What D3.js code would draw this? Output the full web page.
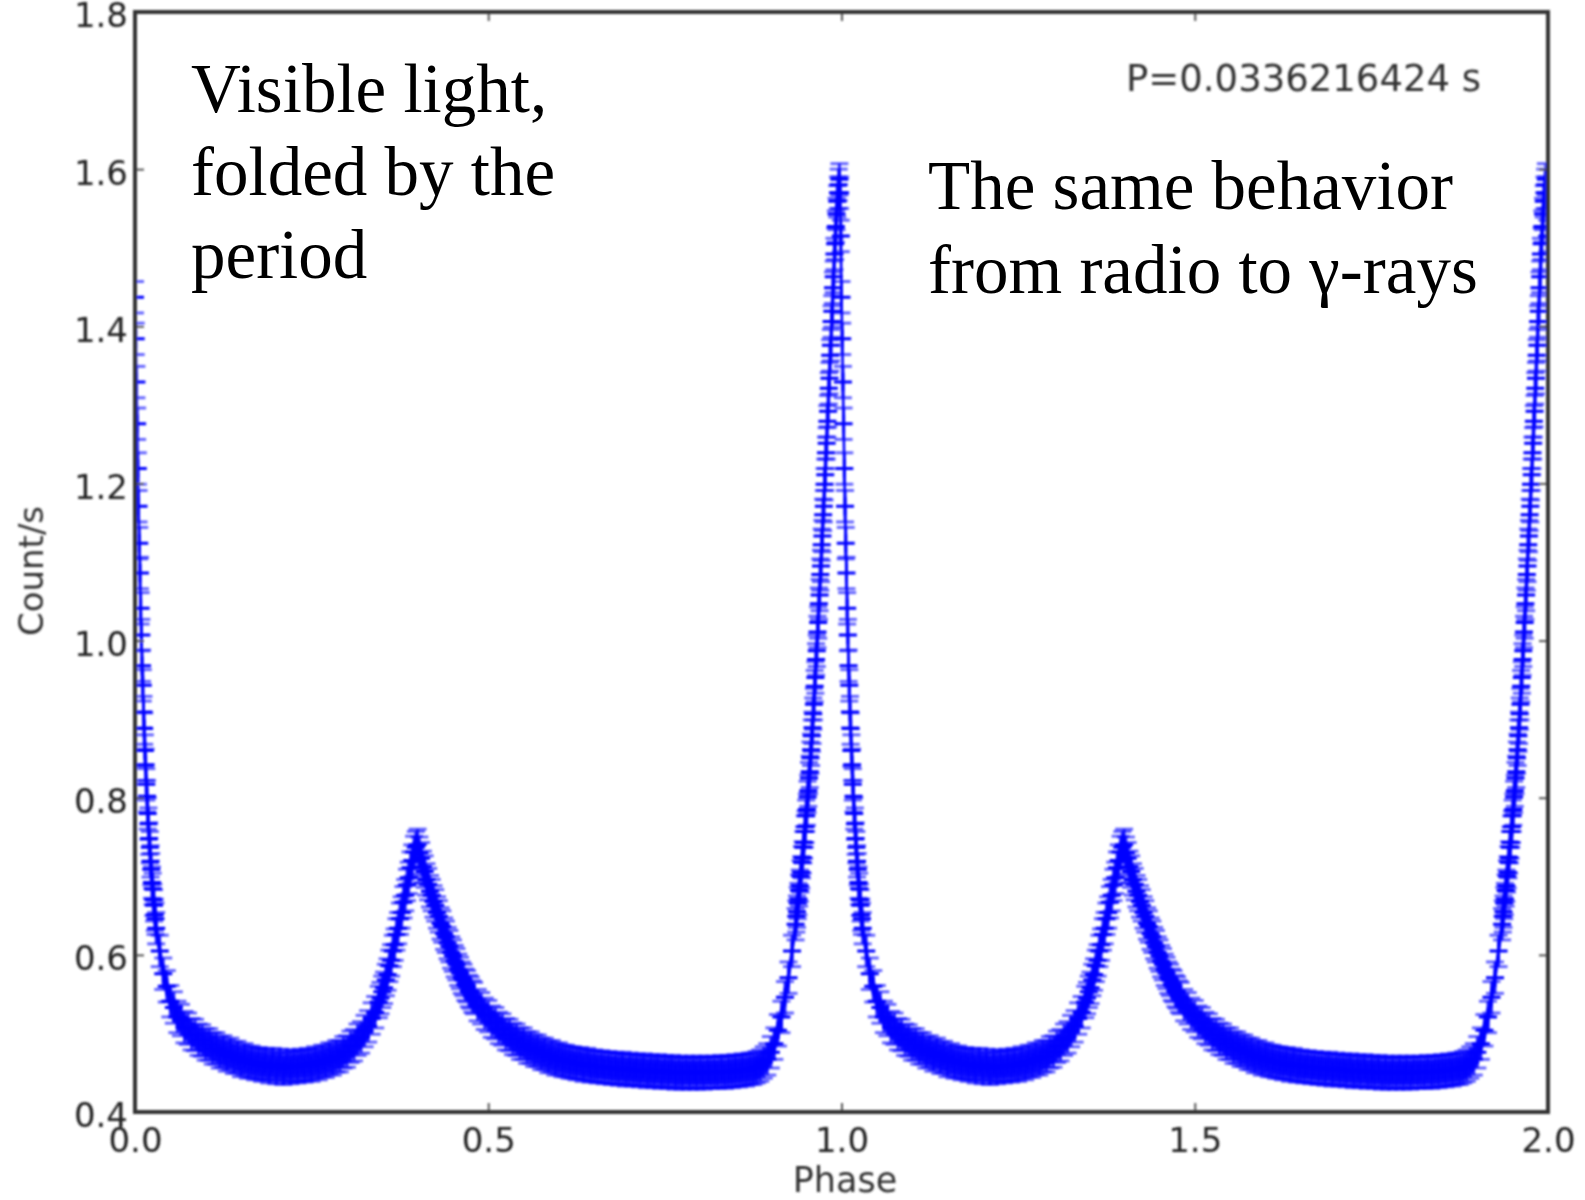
<!DOCTYPE html>
<html>
<head>
<meta charset="utf-8">
<title>Folded light curve</title>
<script src="https://cdn.jsdelivr.net/npm/d3@7"></script>
<style>
  body { margin: 0; background: #fff; }
  svg { display: block; }
</style>
</head>
<body>
<div id="chart"></div>
<script>
// one period of the folded light curve: [phase, count/s]
const lightCurve = [
  [0.000, 1.437], [0.001, 1.384], [0.002, 1.329], [0.003, 1.276], [0.004, 1.219],
  [0.005, 1.171], [0.006, 1.124], [0.007, 1.086], [0.008, 1.041], [0.009, 1.007],
  [0.010, 0.968], [0.011, 0.943], [0.012, 0.909], [0.013, 0.888], [0.014, 0.860],
  [0.015, 0.842], [0.016, 0.817], [0.017, 0.802], [0.018, 0.780], [0.019, 0.767],
  [0.020, 0.748], [0.021, 0.737], [0.022, 0.719], [0.023, 0.709], [0.024, 0.692],
  [0.025, 0.684], [0.026, 0.670], [0.027, 0.663], [0.028, 0.651], [0.029, 0.646],
  [0.030, 0.634], [0.035, 0.605], [0.040, 0.576], [0.045, 0.560], [0.050, 0.541],
  [0.055, 0.533], [0.060, 0.521], [0.065, 0.517], [0.070, 0.508], [0.075, 0.506],
  [0.080, 0.499], [0.085, 0.498], [0.090, 0.492], [0.095, 0.491], [0.100, 0.486],
  [0.105, 0.486], [0.110, 0.481], [0.115, 0.481], [0.120, 0.476], [0.125, 0.477],
  [0.130, 0.472], [0.135, 0.474], [0.140, 0.469], [0.145, 0.470], [0.150, 0.465],
  [0.155, 0.467], [0.160, 0.463], [0.165, 0.464], [0.170, 0.461], [0.175, 0.462],
  [0.180, 0.459], [0.185, 0.461], [0.190, 0.457], [0.195, 0.461], [0.200, 0.456],
  [0.205, 0.460], [0.210, 0.455], [0.215, 0.459], [0.220, 0.456], [0.225, 0.459],
  [0.230, 0.457], [0.235, 0.460], [0.240, 0.458], [0.245, 0.461], [0.250, 0.459],
  [0.255, 0.463], [0.260, 0.461], [0.265, 0.465], [0.270, 0.464], [0.275, 0.468],
  [0.280, 0.467], [0.285, 0.471], [0.290, 0.471], [0.295, 0.476], [0.300, 0.477],
  [0.305, 0.483], [0.310, 0.485], [0.315, 0.492], [0.320, 0.495], [0.325, 0.503],
  [0.330, 0.509], [0.335, 0.519], [0.340, 0.527], [0.345, 0.540],
  [0.3475, 0.545], [0.3500, 0.553], [0.3525, 0.558], [0.3550, 0.568], [0.3575, 0.575],
  [0.3600, 0.586], [0.3625, 0.593], [0.3650, 0.605], [0.3675, 0.613], [0.3700, 0.626],
  [0.3725, 0.634], [0.3750, 0.646], [0.3775, 0.654], [0.3800, 0.667], [0.3825, 0.676],
  [0.3850, 0.689], [0.3875, 0.698], [0.3900, 0.711], [0.3925, 0.720], [0.3950, 0.731],
  [0.3975, 0.737], [0.4000, 0.740], [0.4025, 0.730], [0.4050, 0.723], [0.4075, 0.712],
  [0.4100, 0.706], [0.4125, 0.696], [0.4150, 0.690], [0.4175, 0.681], [0.4200, 0.676],
  [0.4225, 0.668], [0.4250, 0.663], [0.4275, 0.654], [0.4300, 0.649], [0.4325, 0.640],
  [0.4350, 0.636], [0.4375, 0.627], [0.4400, 0.623], [0.4425, 0.615], [0.4450, 0.611],
  [0.4475, 0.603], [0.4500, 0.599], [0.4525, 0.592], [0.4550, 0.588], [0.4575, 0.581],
  [0.4600, 0.577], [0.4625, 0.571], [0.4650, 0.568], [0.4675, 0.562], [0.4700, 0.560],
  [0.4725, 0.554], [0.4750, 0.552], [0.4775, 0.547], [0.4800, 0.545],
  [0.485, 0.536], [0.490, 0.532], [0.495, 0.525], [0.500, 0.522], [0.505, 0.515],
  [0.510, 0.513], [0.515, 0.507], [0.520, 0.505], [0.525, 0.499], [0.530, 0.498],
  [0.535, 0.493], [0.540, 0.492], [0.545, 0.487], [0.550, 0.487], [0.555, 0.482],
  [0.560, 0.482], [0.565, 0.478], [0.570, 0.478], [0.575, 0.474], [0.580, 0.474],
  [0.585, 0.470], [0.590, 0.471], [0.595, 0.467], [0.600, 0.468], [0.605, 0.465],
  [0.610, 0.465], [0.615, 0.463], [0.620, 0.463], [0.625, 0.461], [0.630, 0.462],
  [0.635, 0.459], [0.640, 0.461], [0.645, 0.458], [0.650, 0.459], [0.655, 0.457],
  [0.660, 0.458], [0.665, 0.456], [0.670, 0.457], [0.675, 0.455], [0.680, 0.456],
  [0.685, 0.454], [0.690, 0.456], [0.695, 0.453], [0.700, 0.455], [0.705, 0.453],
  [0.710, 0.454], [0.715, 0.452], [0.720, 0.454], [0.725, 0.451], [0.730, 0.453],
  [0.735, 0.451], [0.740, 0.453], [0.745, 0.450], [0.750, 0.452], [0.755, 0.450],
  [0.760, 0.452], [0.765, 0.449], [0.770, 0.451], [0.775, 0.449], [0.780, 0.451],
  [0.785, 0.449], [0.790, 0.451], [0.795, 0.449], [0.800, 0.451], [0.805, 0.449],
  [0.810, 0.451], [0.815, 0.450], [0.820, 0.451], [0.825, 0.450], [0.830, 0.452],
  [0.835, 0.450], [0.840, 0.452], [0.845, 0.451], [0.850, 0.453], [0.855, 0.452],
  [0.860, 0.454], [0.865, 0.453], [0.870, 0.455], [0.875, 0.455], [0.880, 0.457],
  [0.885, 0.459], [0.890, 0.463], [0.895, 0.467], [0.900, 0.476], [0.905, 0.487],
  [0.910, 0.504], [0.915, 0.521], [0.920, 0.546], [0.925, 0.571], [0.930, 0.605],
  [0.935, 0.639],
  [0.936, 0.649], [0.937, 0.655], [0.938, 0.666], [0.939, 0.671], [0.940, 0.682],
  [0.941, 0.688], [0.942, 0.700], [0.943, 0.705], [0.944, 0.718], [0.945, 0.724],
  [0.946, 0.737], [0.947, 0.743], [0.948, 0.757], [0.949, 0.763], [0.950, 0.777],
  [0.951, 0.785], [0.952, 0.801], [0.953, 0.809], [0.954, 0.825], [0.955, 0.833],
  [0.956, 0.851], [0.957, 0.861], [0.958, 0.879], [0.959, 0.889], [0.960, 0.907],
  [0.961, 0.919], [0.962, 0.942], [0.963, 0.953], [0.964, 0.976], [0.965, 0.987],
  [0.966, 1.011], [0.967, 1.023], [0.968, 1.047], [0.969, 1.058], [0.970, 1.084],
  [0.971, 1.095], [0.972, 1.122], [0.973, 1.133], [0.974, 1.160], [0.975, 1.171],
  [0.976, 1.199], [0.977, 1.211], [0.978, 1.239], [0.979, 1.251], [0.980, 1.279],
  [0.981, 1.292], [0.982, 1.321], [0.983, 1.334], [0.984, 1.363], [0.985, 1.376],
  [0.986, 1.406], [0.987, 1.419], [0.988, 1.449], [0.989, 1.463], [0.990, 1.492],
  [0.991, 1.505], [0.992, 1.527], [0.993, 1.543], [0.994, 1.559], [0.995, 1.570],
  [0.996, 1.580], [0.997, 1.587], [0.998, 1.570], [0.999, 1.515]
];
const countErr = 0.02;
const cycles = [0, 1];

const xTicks = [0, 0.5, 1.0, 1.5, 2.0];
const yTicks = [0.4, 0.6, 0.8, 1.0, 1.2, 1.4, 1.6, 1.8];

const periodLabel = 'P=0.0336216424 s';
const leftNote = ['Visible light,', 'folded by the', 'period'];
const rightNote = ['The same behavior', 'from radio to γ-rays'];

function drawChart() {
  const width = 1585,
    height = 1200;
  const left = 135,
    right = 1548,
    top = 12,
    bottom = 1112;
  const blue = '#0000ff';

  const svg = d3
    .select('#chart')
    .append('svg')
    .attr('width', width)
    .attr('height', height)
    .style('background', '#fff');

  const defs = svg.append('defs');
  defs
    .append('clipPath')
    .attr('id', 'plot-clip')
    .append('rect')
    .attr('x', left)
    .attr('y', top)
    .attr('width', right - left)
    .attr('height', bottom - top);
  // the reference is a slightly soft, upscaled matplotlib figure
  defs
    .append('filter')
    .attr('id', 'soft')
    .append('feGaussianBlur')
    .attr('stdDeviation', 0.8);

  const x = d3.scaleLinear().domain([0, 2]).range([left, right]);
  const y = d3.scaleLinear().domain([0.4, 1.8]).range([bottom, top]);

  // both cycles drawn from the same folded data
  const points = cycles.flatMap((c) => lightCurve.map(([p, v]) => ({ phase: p + c, count: v })));

  const fig = svg.append('g').attr('filter', 'url(#soft)');

  const plot = fig.append('g').attr('clip-path', 'url(#plot-clip)');

  // dense core of the error band
  plot
    .append('path')
    .datum(points)
    .attr('fill', blue)
    .attr('fill-opacity', 0.9)
    .attr(
      'd',
      d3
        .area()
        .x((d) => x(d.phase))
        .y0((d) => y(d.count - countErr * 0.8))
        .y1((d) => y(d.count + countErr * 0.8))
    );

  // error bars
  const err = plot
    .append('g')
    .attr('stroke', blue)
    .attr('stroke-opacity', 0.8)
    .attr('stroke-width', 3);
  err
    .selectAll('line.bar')
    .data(points)
    .join('line')
    .attr('class', 'bar')
    .attr('x1', (d) => x(d.phase))
    .attr('x2', (d) => x(d.phase))
    .attr('y1', (d) => y(d.count - countErr))
    .attr('y2', (d) => y(d.count + countErr));
  ['lo', 'hi'].forEach((side) => {
    err
      .selectAll('line.cap-' + side)
      .data(points)
      .join('line')
      .attr('class', 'cap-' + side)
      .attr('stroke-opacity', 0.6)
      .attr('x1', (d) => x(d.phase) - 9)
      .attr('x2', (d) => x(d.phase) + 9)
      .attr('y1', (d) => y(side === 'lo' ? d.count - countErr : d.count + countErr))
      .attr('y2', (d) => y(side === 'lo' ? d.count - countErr : d.count + countErr));
  });

  // connecting line
  plot
    .append('path')
    .datum(points)
    .attr('fill', 'none')
    .attr('stroke', blue)
    .attr('stroke-width', 2.6)
    .attr(
      'd',
      d3
        .line()
        .x((d) => x(d.phase))
        .y((d) => y(d.count))
    );

  // '+' markers
  plot
    .append('g')
    .attr('stroke', blue)
    .attr('stroke-width', 3)
    .selectAll('path')
    .data(points)
    .join('path')
    .attr('d', (d) => {
      const cx = x(d.phase),
        cy = y(d.count),
        s = 9;
      return `M${cx - s},${cy}H${cx + s}M${cx},${cy - s}V${cy + s}`;
    });

  // axes: inward ticks on all four sides
  const tickFont = (g) =>
    g
      .call((s) => s.select('.domain').remove())
      .call((s) =>
        s
          .selectAll('text')
          .attr('font-family', 'DejaVu Sans')
          .attr('font-size', 34)
          .attr('fill', '#222')
      )
      .call((s) => s.selectAll('line').attr('stroke', '#555').attr('stroke-width', 2));

  fig
    .append('g')
    .attr('transform', `translate(0,${bottom})`)
    .call(
      d3.axisBottom(x).tickValues(xTicks).tickFormat(d3.format('.1f')).tickSizeInner(-9).tickSizeOuter(0).tickPadding(16)
    )
    .call(tickFont);

  fig
    .append('g')
    .attr('transform', `translate(${left},0)`)
    .call(
      d3.axisLeft(y).tickValues(yTicks).tickFormat(d3.format('.1f')).tickSizeInner(-9).tickSizeOuter(0).tickPadding(7)
    )
    .call(tickFont)
    .call((g) => g.selectAll('text').attr('dy', '0.44em'));

  fig
    .append('g')
    .attr('transform', `translate(0,${top})`)
    .call(d3.axisTop(x).tickValues(xTicks).tickFormat('').tickSizeInner(-9).tickSizeOuter(0))
    .call(tickFont);

  fig
    .append('g')
    .attr('transform', `translate(${right},0)`)
    .call(d3.axisRight(y).tickValues(yTicks).tickFormat('').tickSizeInner(-9).tickSizeOuter(0))
    .call(tickFont);

  // frame
  fig
    .append('rect')
    .attr('x', left)
    .attr('y', top)
    .attr('width', right - left)
    .attr('height', bottom - top)
    .attr('fill', 'none')
    .attr('stroke', '#333')
    .attr('stroke-width', 4);

  // axis titles
  fig
    .append('text')
    .attr('x', 845)
    .attr('y', 1192)
    .attr('text-anchor', 'middle')
    .attr('font-family', 'DejaVu Sans')
    .attr('font-size', 35)
    .attr('fill', '#333')
    .text('Phase');

  fig
    .append('text')
    .attr('transform', 'translate(43,571) rotate(-90)')
    .attr('text-anchor', 'middle')
    .attr('font-family', 'DejaVu Sans')
    .attr('font-size', 34)
    .attr('fill', '#333')
    .text('Count/s');

  fig
    .append('text')
    .attr('x', 1126)
    .attr('y', 91)
    .attr('font-family', 'DejaVu Sans')
    .attr('font-size', 37)
    .attr('fill', '#333')
    .text(periodLabel);

  // annotations pasted on top of the figure
  const notes = svg
    .append('g')
    .attr('font-family', '"Liberation Serif", "Times New Roman", serif')
    .attr('font-size', 69)
    .attr('fill', '#000');

  notes
    .selectAll('text.left')
    .data(leftNote)
    .join('text')
    .attr('class', 'left')
    .attr('x', 191)
    .attr('y', (d, i) => 112 + i * 83)
    .text((d) => d);

  notes
    .selectAll('text.right')
    .data(rightNote)
    .join('text')
    .attr('class', 'right')
    .attr('x', 928)
    .attr('y', (d, i) => 209 + i * 84)
    .text((d) => d);
}

drawChart();
</script>
</body>
</html>
